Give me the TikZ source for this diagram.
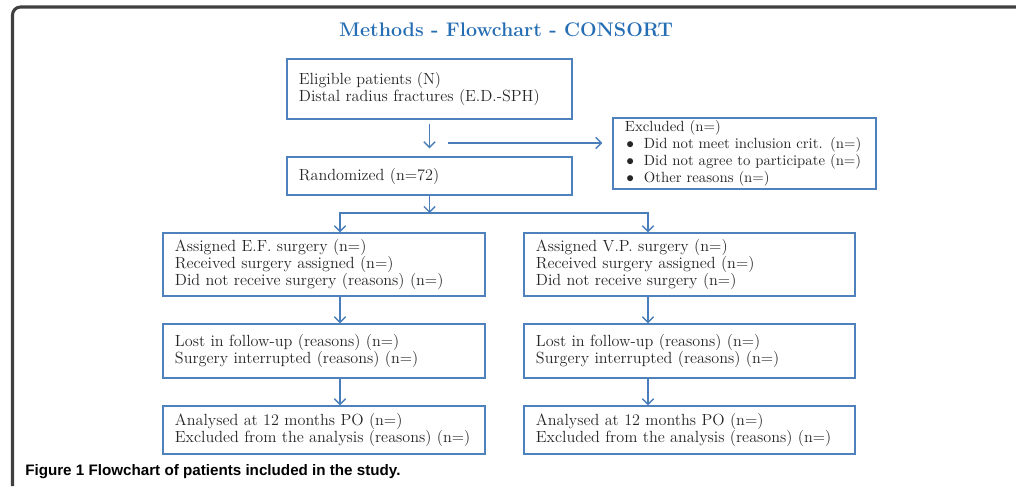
\documentclass[tikz,border=0pt]{standalone}
\usepackage{fontspec}
\newfontfamily\captionfont{Liberation Sans}
\usepackage{tikz}
\usetikzlibrary{arrows.meta,calc,positioning}
\definecolor{boxblue}{RGB}{79,129,189}
\definecolor{arrblue}{RGB}{74,126,187}
\definecolor{titleblue}{RGB}{38,110,180}

\begin{document}
\begin{tikzpicture}[x=0.025cm,y=-0.025cm,
  box/.style={draw=boxblue,line width=1pt,align=left,inner xsep=0.3cm,inner ysep=0pt,
    text=black!85,font=\fontsize{11.5}{12.4}\selectfont},
  arr/.style={draw=arrblue,line width=1pt,-{Straight Barb[length=4pt,width=8pt]}}]
\useasboundingbox (0,0) rectangle (1016,486);
% outer frame
\draw[black!75,line width=2.2pt,rounded corners=0.2cm] (12.5,486)--(12.5,7)--(1016,7);
\node[font=\fontsize{14}{16}\selectfont\bfseries,text=titleblue] (title) at (506,30) {Methods - Flowchart - CONSORT};
% enrolment
\node[box,text width=6.525cm,minimum height=1.5cm] (elig) at (429.5,89) {Eligible patients (N)\\Distal radius fractures (E.D.-SPH)};
\node[box,text width=6.525cm,minimum height=0.95cm] (rand) at (429.5,176) {Randomized (n=72)};
\node[box,text width=5.975cm,minimum height=1.775cm,font=\fontsize{10.5}{12}\selectfont] (excl) at (744.5,153.5)
  {Excluded (n=)\\\hspace{1pt}$\bullet$\hspace{7pt}Did not meet inclusion crit. (n=)\\\hspace{1pt}$\bullet$\hspace{7pt}Did not agree to participate (n=)\\\hspace{1pt}$\bullet$\hspace{7pt}Other reasons (n=)};
% arms
\node[box,text width=7.45cm,minimum height=1.575cm] (ef) at (324,264.5) {Assigned E.F. surgery (n=)\\Received surgery assigned (n=)\\Did not receive surgery (reasons) (n=)};
\node[box,text width=7.675cm,minimum height=1.575cm] (vp) at (689.5,264.5) {Assigned V.P. surgery (n=)\\Received surgery assigned (n=)\\Did not receive surgery (n=)};
\node[box,text width=7.45cm,minimum height=1.35cm] (lostL) at (324,351) {Lost in follow-up (reasons) (n=)\\Surgery interrupted (reasons) (n=)};
\node[box,text width=7.675cm,minimum height=1.35cm] (lostR) at (689.5,351) {Lost in follow-up (reasons) (n=)\\Surgery interrupted (reasons) (n=)};
\node[box,text width=7.45cm,minimum height=1.2cm] (anL) at (324,430) {Analysed at 12 months PO (n=)\\Excluded from the analysis (reasons) (n=)};
\node[box,text width=7.675cm,minimum height=1.2cm] (anR) at (689.5,430) {Analysed at 12 months PO (n=)\\Excluded from the analysis (reasons) (n=)};
\node[font=\captionfont\fontsize{10.8}{12}\selectfont\bfseries,anchor=west,inner sep=0pt] (cap) at (25,472) {Figure 1 Flowchart of patients included in the study.};
% connectors
\coordinate (colL) at (340,0); \coordinate (colR) at (648,0);
\coordinate (split) at (429.5,213);
\coordinate (exclstart) at (448,143);
\draw[arr,shorten <=0.1cm,shorten >=0.2cm] (elig)--(rand);
\draw[arr,shorten >=0.25cm] (exclstart)--(excl.west |- exclstart);
\draw[arr] (rand)--(split);
\draw[arr] (split) -| (ef.north -| colL);
\draw[arr] (split) -| (vp.north -| colR);
\draw[arr] (ef.south -| colL)--(lostL.north -| colL);
\draw[arr] (vp.south -| colR)--(lostR.north -| colR);
\draw[arr] (lostL.south -| colL)--(anL.north -| colL);
\draw[arr] (lostR.south -| colR)--(anR.north -| colR);
\end{tikzpicture}
\end{document}
